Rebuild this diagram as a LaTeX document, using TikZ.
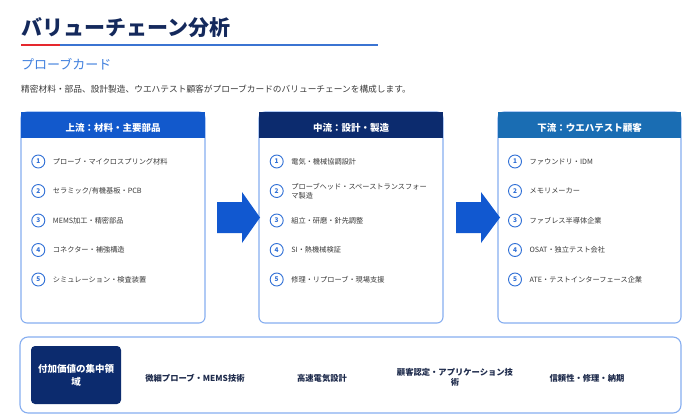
\documentclass[tikz,border=0pt]{standalone}
\usepackage{fontspec}
\setmainfont{Noto Sans CJK JP}
\usetikzlibrary{positioning}

\definecolor{titlenavy}{HTML}{14295C}
\definecolor{rulered}{HTML}{E5282E}
\definecolor{ruleblue}{HTML}{3B74D2}
\definecolor{subblue}{HTML}{3F7FDE}
\definecolor{textgray}{HTML}{3A3A3A}
\definecolor{panelline}{HTML}{86AEF0}
\definecolor{upblue}{HTML}{1259CC}
\definecolor{midnavy}{HTML}{0C2B6E}
\definecolor{downblue}{HTML}{1A6DB3}
\definecolor{numblue}{HTML}{2F6FD6}
\definecolor{flowblue}{HTML}{1158D0}
\definecolor{labelnavy}{HTML}{1E2B4C}

\begin{document}
\begin{tikzpicture}[x=1pt, y=-1pt]
\tikzstyle{panel} = [draw=panelline, line width=1.1pt, fill=white, rounded corners=6pt]
\tikzstyle{head} = [font=\bfseries\fontsize{9.5}{11}\selectfont, text=white, inner sep=0pt]
\tikzstyle{num} = [circle, draw=numblue, line width=0.9pt, fill=white,
  minimum size=13pt, inner sep=0pt, text=numblue, font=\bfseries\fontsize{6.5}{7}\selectfont]
\tikzstyle{item} = [align=left, font=\fontsize{7.2}{9}\selectfont, text=textgray, inner sep=0pt]
\tikzstyle{flow} = [fill=flowblue]
\tikzstyle{point} = [align=center, font=\bfseries\fontsize{8.3}{10.5}\selectfont, text=labelnavy, inner sep=0pt]

\fill[white] (0,0) rectangle (688,415);
\useasboundingbox (0,0) rectangle (688,415);

% title
\node[anchor=west, inner sep=0pt, text=titlenavy, font=\bfseries\fontsize{21}{25}\selectfont]
  (title) at (21,27.5) {バリューチェーン分析};
\draw[rulered, line width=2pt] (21,45) -- (60,45);
\draw[ruleblue, line width=2pt] (60,45) -- (378,45);
\node[anchor=west, inner sep=0pt, text=subblue, font=\fontsize{13}{15}\selectfont]
  (sub) at (21,64.5) {プローブカード};
\node[anchor=west, inner sep=0pt, text=textgray, font=\fontsize{8.7}{10}\selectfont]
  (desc) at (21,89) {精密材料・部品、設計製造、ウエハテスト顧客がプローブカードのバリューチェーンを構成します。};

% upstream
\coordinate (up) at (21,112);
\draw[panel] (up) rectangle ++(184,211);
\fill[upblue] (up) rectangle ++(184,25.5);
\node[head] (uph) at (113,127.5) {上流：材料・主要部品};
\node[num] (u1) at (38.3,161.5) {1};
\node[item, right=7.5pt of u1] (u1t) {プローブ・マイクロスプリング材料};
\node[num] (u2) at (38.3,191) {2};
\node[item, right=7.5pt of u2] (u2t) {セラミック/有機基板・PCB};
\node[num] (u3) at (38.3,220.5) {3};
\node[item, right=7.5pt of u3] (u3t) {MEMS加工・精密部品};
\node[num] (u4) at (38.3,250) {4};
\node[item, right=7.5pt of u4] (u4t) {コネクター・補強構造};
\node[num] (u5) at (38.3,279.5) {5};
\node[item, right=7.5pt of u5] (u5t) {シミュレーション・検査装置};

% midstream
\coordinate (mid) at (259,112);
\draw[panel] (mid) rectangle ++(184,211);
\fill[midnavy] (mid) rectangle ++(184,25.5);
\node[head] (midh) at (351,127.5) {中流：設計・製造};
\node[num] (m1) at (276.7,161.5) {1};
\node[item, right=7.5pt of m1] (m1t) {電気・機械協調設計};
\node[num] (m2) at (276.7,191) {2};
\node[item, right=7.5pt of m2] (m2t) {プローブヘッド・スペーストランスフォー\\マ製造};
\node[num] (m3) at (276.7,220.5) {3};
\node[item, right=7.5pt of m3] (m3t) {組立・研磨・針先調整};
\node[num] (m4) at (276.7,250) {4};
\node[item, right=7.5pt of m4] (m4t) {SI・熱機械検証};
\node[num] (m5) at (276.7,279.5) {5};
\node[item, right=7.5pt of m5] (m5t) {修理・リプローブ・現場支援};

% downstream
\coordinate (down) at (498,112);
\draw[panel] (down) rectangle ++(183,211);
\fill[downblue] (down) rectangle ++(183,25.5);
\node[head] (downh) at (589.5,127.5) {下流：ウエハテスト顧客};
\node[num] (d1) at (515,161.5) {1};
\node[item, right=7.5pt of d1] (d1t) {ファウンドリ・IDM};
\node[num] (d2) at (515,191) {2};
\node[item, right=7.5pt of d2] (d2t) {メモリメーカー};
\node[num] (d3) at (515,220.5) {3};
\node[item, right=7.5pt of d3] (d3t) {ファブレス半導体企業};
\node[num] (d4) at (515,250) {4};
\node[item, right=7.5pt of d4] (d4t) {OSAT・独立テスト会社};
\node[num] (d5) at (515,279.5) {5};
\node[item, right=7.5pt of d5] (d5t) {ATE・テストインターフェース企業};

% flow arrows
\coordinate (arr1) at (217,217.5);
\fill[flow] (arr1) ++(0,-15.5) -- ++(25,0) -- ++(0,-10) -- ++(18,25.5)
  -- ++(-18,25.5) -- ++(0,-10) -- ++(-25,0) -- cycle;
\coordinate (arr2) at (456,217.5);
\fill[flow] (arr2) ++(0,-15.5) -- ++(25,0) -- ++(0,-10) -- ++(19,25.5)
  -- ++(-19,25.5) -- ++(0,-10) -- ++(-25,0) -- cycle;

% value focus
\draw[panel, rounded corners=8pt] (20,337) rectangle (681,413);
\node[fill=midnavy, rounded corners=4pt, minimum width=90pt, minimum height=58pt,
  inner sep=0pt, align=center, text=white, font=\bfseries\fontsize{9.5}{13}\selectfont]
  (focus) at (76,375) {付加価値の集中領\\域};
\node[point] (p1) at (195,378) {微細プローブ・MEMS技術};
\node[point] (p2) at (322,378) {高速電気設計};
\node[point] (p3) at (455,377.5) {顧客認定・アプリケーション技\\術};
\node[point] (p4) at (587,378) {信頼性・修理・納期};
\end{tikzpicture}
\end{document}
